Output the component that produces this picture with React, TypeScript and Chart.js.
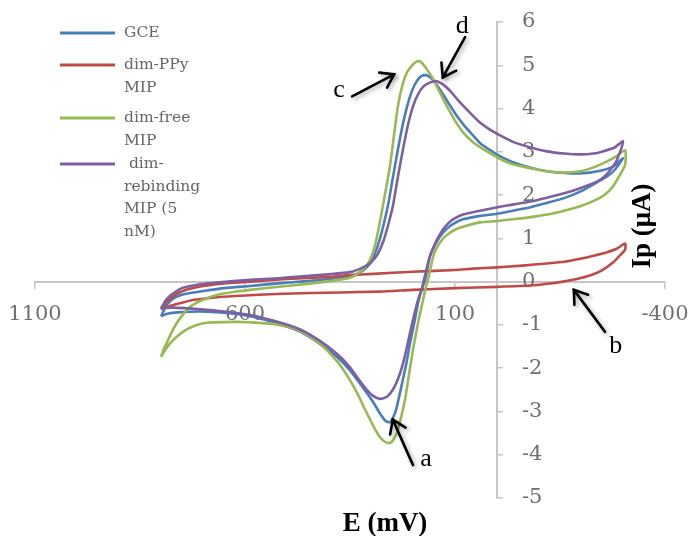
import React, { useEffect, useRef } from "react";
import { Chart, registerables } from "chart.js";

Chart.register(...registerables);

// ---- text ----
const seriesNames = ["GCE", "dim-PPy\nMIP", "dim-free\nMIP", " dim-\nrebinding\nMIP (5\nnM)"];
const seriesColors = ["#4A7EBB", "#BE4B48", "#98B954", "#7D60A0"];
const xTitle = "E (mV)";
const yTitle = "Ip (μA)";
const peakLetters = ["a", "b", "c", "d"];

// ---- tick labels ----
const xTickValues = [1100, 600, 100, -400];
const yTickValues = [-5, -4, -3, -2, -1, 0, 1, 2, 3, 4, 5, 6];

// ---- series (closed CV loops: potential mV, current µA) ----
const gcePotential = [
  800, 785, 765, 740, 707, 650, 588, 520, 469, 400, 350, 320, 300, 280, 260, 248, 236, 225, 214, 202,
  190, 178, 167, 152, 136, 115, 95, 75, 57, 40, 10, -7, -38, -80, -119, -160, -198, -240, -276, -300,
  -280, -262, -230, -198, -160, -119, -80, -38, 0, 40, 81, 105, 120, 136, 148, 160, 170, 178, 188, 197,
  207, 216, 226, 240, 248, 255, 265, 279, 295, 319, 350, 380, 420, 470, 533, 588, 650, 707, 760, 785, 800,
];
const gceCurrent = [
  -0.8, -0.52, -0.36, -0.28, -0.23, -0.15, -0.1, -0.04, 0.0, 0.06, 0.13, 0.25, 0.45, 0.95, 1.74, 2.4, 3.05, 3.6, 4.05, 4.42,
  4.65, 4.76, 4.77, 4.66, 4.44, 4.12, 3.82, 3.57, 3.38, 3.2, 3.0, 2.9, 2.76, 2.63, 2.55, 2.51, 2.5, 2.55, 2.66, 2.85,
  2.58, 2.43, 2.25, 2.08, 1.93, 1.82, 1.72, 1.64, 1.57, 1.52, 1.44, 1.33, 1.22, 1.04, 0.84, 0.58, 0.2, -0.12, -0.5, -0.95,
  -1.42, -1.9, -2.35, -2.95, -3.15, -3.25, -3.22, -3.04, -2.78, -2.45, -2.05, -1.75, -1.45, -1.15, -0.94, -0.8, -0.72, -0.69, -0.71, -0.74, -0.8,
];

const ppyPotential = [
  800, 785, 765, 740, 700, 650, 588, 500, 400, 350, 295, 200, 100, 57, 0, -60, -119, -160, -198, -230, -262, -285, -305,
  -305, -290, -276, -250, -221, -190, -157, -120, -79, 0, 100, 200, 279, 374, 510, 600, 667, 720, 748, 775, 800,
];
const ppyCurrent = [
  -0.63, -0.45, -0.3, -0.19, -0.1, -0.04, 0.0, 0.06, 0.11, 0.15, 0.18, 0.23, 0.27, 0.3, 0.33, 0.37, 0.42, 0.46, 0.53, 0.6, 0.68, 0.76, 0.88,
  0.74, 0.58, 0.44, 0.26, 0.14, 0.06, 0.0, -0.05, -0.09, -0.12, -0.15, -0.19, -0.23, -0.25, -0.28, -0.32, -0.36, -0.42, -0.48, -0.55, -0.63,
];

const freePotential = [
  800, 793, 786, 775, 762, 746, 731, 700, 667, 620, 588, 520, 469, 400, 350, 333, 315, 302, 290, 279,
  267, 255, 245, 236, 225, 214, 200, 190, 183, 170, 152, 135, 119, 100, 81, 57, 33, -7, -38, -80,
  -119, -157, -198, -230, -262, -285, -305,
  -305, -290, -276, -258, -238, -198, -160, -119, -80, -38, 0, 40, 81, 100, 112, 125, 136, 145, 152, 158, 164,
  170, 176, 188, 200, 210, 219, 228, 236, 245, 255, 267, 279, 290, 302, 318, 333, 355, 380, 420, 470,
  533, 588, 629, 690, 720, 748, 770, 786, 800,
];
const freeCurrent = [
  -1.74, -1.55, -1.41, -1.18, -0.95, -0.74, -0.58, -0.42, -0.31, -0.23, -0.19, -0.12, -0.07, 0.01, 0.09, 0.18, 0.32, 0.51, 0.85, 1.37,
  2.0, 2.66, 3.4, 4.05, 4.55, 4.84, 5.02, 5.09, 5.09, 4.95, 4.68, 4.35, 4.05, 3.72, 3.45, 3.22, 3.06, 2.84, 2.71, 2.62,
  2.55, 2.52, 2.55, 2.64, 2.78, 2.9, 3.04,
  2.7, 2.42, 2.2, 2.02, 1.9, 1.74, 1.64, 1.55, 1.49, 1.44, 1.4, 1.37, 1.27, 1.2, 1.13, 1.03, 0.9, 0.75, 0.58, 0.32, 0.05,
  -0.15, -0.42, -0.95, -1.57, -2.18, -2.73, -3.12, -3.43, -3.63, -3.73, -3.7, -3.59, -3.42, -3.19, -2.88, -2.57, -2.2, -1.85, -1.45, -1.13,
  -0.98, -0.94, -0.93, -0.95, -1.02, -1.16, -1.34, -1.52, -1.74,
];

const rebindPotential = [
  800, 790, 779, 760, 748, 707, 667, 588, 520, 469, 400, 350, 319, 300, 285, 270, 258, 248, 236, 224,
  212, 200, 188, 176, 160, 143, 125, 110, 95, 75, 57, 40, 15, -7, -38, -80, -119, -160, -198, -230,
  -252, -280, -300,
  -285, -276, -258, -238, -198, -160, -119, -80, -38, -7, 40, 81, 105, 118, 129, 143, 152, 160, 166, 171, 180,
  188, 198, 207, 216, 226, 237, 248, 262, 279, 295, 310, 330, 350, 380, 420, 470, 533, 588, 650, 707,
  771, 790, 800,
];
const rebindCurrent = [
  -0.63, -0.45, -0.33, -0.2, -0.14, -0.06, -0.02, 0.04, 0.08, 0.12, 0.17, 0.22, 0.33, 0.45, 0.62, 0.95, 1.35, 1.74, 2.42, 3.05,
  3.62, 4.05, 4.33, 4.5, 4.6, 4.63, 4.53, 4.39, 4.22, 4.01, 3.83, 3.67, 3.5, 3.38, 3.23, 3.1, 3.01, 2.96, 2.94, 2.96,
  3.01, 3.1, 3.24,
  2.8, 2.66, 2.45, 2.31, 2.16, 2.04, 1.94, 1.85, 1.78, 1.73, 1.64, 1.55, 1.44, 1.33, 1.2, 0.97, 0.78, 0.58, 0.3, 0.05, -0.2,
  -0.42, -0.8, -1.18, -1.58, -1.97, -2.28, -2.5, -2.66, -2.71, -2.64, -2.5, -2.25, -1.98, -1.68, -1.38, -1.1, -0.9, -0.77, -0.69, -0.64,
  -0.6, -0.61, -0.63,
];

const seriesPotentials = [gcePotential, ppyPotential, freePotential, rebindPotential];
const seriesCurrents = [gceCurrent, ppyCurrent, freeCurrent, rebindCurrent];

// annotation arrows in data units: [letter, letterE, letterI, tailE, tailI, tipE, tipI]
const arrowSpecs: [string, number, number, number, number, number, number][] = [
  [peakLetters[0], 169, -4.1, 200, -4.24, 248, -3.19],
  [peakLetters[1], -283, -1.5, -257, -1.16, -183, -0.19],
  [peakLetters[2], 376, 4.42, 345, 4.28, 245, 4.79],
  [peakLetters[3], 83, 5.9, 76, 5.65, 129, 4.72],
];

const AXIS_GRAY = "#c6c6c6";
const TICK_FONT = "'DejaVu Serif', serif";

const decorPlugin = {
  id: "cvDecor",
  beforeDraw(chart: any) {
    const ys = chart.scales.y;
    const xs = chart.scales.x;
    const axisX = xs.getPixelForValue(0);
    const axisY = ys.getPixelForValue(0);
    // y tick labels to the right of the vertical axis, left aligned
    ys.getLabelItems().forEach((it: any) => {
      it.options.textAlign = "left";
      it.options.translation = [axisX + 25, it.options.translation[1]];
    });
    // x tick labels well below the horizontal axis
    xs.getLabelItems().forEach((it: any) => {
      it.options.translation = [it.options.translation[0], axisY + 20];
    });
  },
  afterDatasetsDraw(chart: any) {
    const { ctx } = chart;
    const xs = chart.scales.x;
    const ys = chart.scales.y;

    // arrows
    ctx.save();
    ctx.shadowColor = "rgba(0,0,0,0.35)";
    ctx.shadowBlur = 4;
    ctx.shadowOffsetX = 2;
    ctx.shadowOffsetY = 2;
    ctx.strokeStyle = "#000";
    ctx.lineWidth = 2.6;
    ctx.lineCap = "round";
    ctx.lineJoin = "miter";
    arrowSpecs.forEach((a) => {
      const x1 = xs.getPixelForValue(a[3]);
      const y1 = ys.getPixelForValue(a[4]);
      const x2 = xs.getPixelForValue(a[5]);
      const y2 = ys.getPixelForValue(a[6]);
      const ang = Math.atan2(y2 - y1, x2 - x1);
      const head = 15;
      const spread = 0.6;
      ctx.beginPath();
      ctx.moveTo(x1, y1);
      ctx.lineTo(x2, y2);
      ctx.stroke();
      ctx.beginPath();
      ctx.moveTo(x2 - head * Math.cos(ang - spread), y2 - head * Math.sin(ang - spread));
      ctx.lineTo(x2, y2);
      ctx.lineTo(x2 - head * Math.cos(ang + spread), y2 - head * Math.sin(ang + spread));
      ctx.stroke();
    });
    ctx.restore();

    // letters
    ctx.save();
    ctx.fillStyle = "#000";
    ctx.font = "26px 'Liberation Serif', serif";
    ctx.textAlign = "center";
    ctx.textBaseline = "middle";
    arrowSpecs.forEach((a) => {
      ctx.fillText(a[0], xs.getPixelForValue(a[1]), ys.getPixelForValue(a[2]));
    });
    ctx.restore();

    // legend
    const legendY = [33, 65, 118, 164];
    const lineH = 22.5;
    ctx.save();
    ctx.font = "15.5px 'DejaVu Serif', serif";
    ctx.fillStyle = "#666666";
    ctx.textAlign = "left";
    ctx.textBaseline = "middle";
    seriesNames.forEach((name, i) => {
      const cy = legendY[i];
      ctx.strokeStyle = seriesColors[i];
      ctx.lineWidth = 3;
      ctx.beginPath();
      ctx.moveTo(60, cy);
      ctx.lineTo(115, cy);
      ctx.stroke();
      name.split("\n").forEach((ln, k) => ctx.fillText(ln, 124, cy + k * lineH));
    });
    ctx.restore();

    // axis titles
    ctx.save();
    ctx.fillStyle = "#000";
    ctx.font = "bold 27px 'Liberation Serif', serif";
    ctx.textAlign = "center";
    ctx.textBaseline = "alphabetic";
    ctx.fillText(xTitle, 385, 531);
    ctx.translate(650, 226);
    ctx.rotate(-Math.PI / 2);
    ctx.fillText(yTitle, 0, 0);
    ctx.restore();
  },
};

export default function App() {
  const canvasRef = useRef<HTMLCanvasElement | null>(null);

  useEffect(() => {
    const canvas = canvasRef.current;
    if (!canvas) return;
    const datasets = seriesNames.map((name, i) => ({
      label: name.replace(/\n/g, " ").trim(),
      data: seriesPotentials[i].map((e, k) => ({ x: e, y: seriesCurrents[i][k] })),
      borderColor: seriesColors[i],
      backgroundColor: seriesColors[i],
      showLine: true,
      fill: false,
      pointRadius: 0,
      borderWidth: 2.6,
      tension: 0.2,
      order: seriesNames.length - 1 - i,
    }));

    const chart = new Chart(canvas, {
      type: "scatter",
      data: { datasets },
      plugins: [decorPlugin],
      options: {
        responsive: false,
        animation: false,
        events: [],
        layout: { padding: { left: 35, right: 27, top: 22, bottom: 38 } },
        plugins: { legend: { display: false }, tooltip: { enabled: false } },
        scales: {
          x: {
            type: "linear",
            reverse: true,
            min: -400,
            max: 1100,
            position: { y: 0 } as any,
            afterBuildTicks: (s: any) => {
              s.ticks = xTickValues.map((v) => ({ value: v }));
            },
            ticks: {
              callback: (v: any) => String(v),
              font: { family: TICK_FONT, size: 21 },
              color: "#707070",
              padding: 0,
              maxRotation: 0,
              autoSkip: false,
            },
            grid: { drawOnChartArea: false, drawTicks: true, tickLength: 6, color: AXIS_GRAY, lineWidth: 1.5 },
            border: { display: true, color: AXIS_GRAY, width: 2 },
          },
          y: {
            type: "linear",
            min: -5,
            max: 6,
            position: { x: 0 } as any,
            afterBuildTicks: (s: any) => {
              s.ticks = yTickValues.map((v) => ({ value: v }));
            },
            ticks: {
              callback: (v: any) => String(v),
              font: { family: TICK_FONT, size: 21 },
              color: "#707070",
              padding: 0,
              autoSkip: false,
            },
            grid: { drawOnChartArea: false, drawTicks: true, tickLength: -7, color: AXIS_GRAY, lineWidth: 1.5 },
            border: { display: true, color: AXIS_GRAY, width: 2 },
          },
        },
      } as any,
    });
    return () => chart.destroy();
  }, []);

  return (
    <div style={{ position: "fixed", left: 0, top: 0, width: 692, height: 536, background: "#fff" }}>
      <canvas ref={canvasRef} width={692} height={536} style={{ width: 692, height: 536, display: "block" }} />
    </div>
  );
}
